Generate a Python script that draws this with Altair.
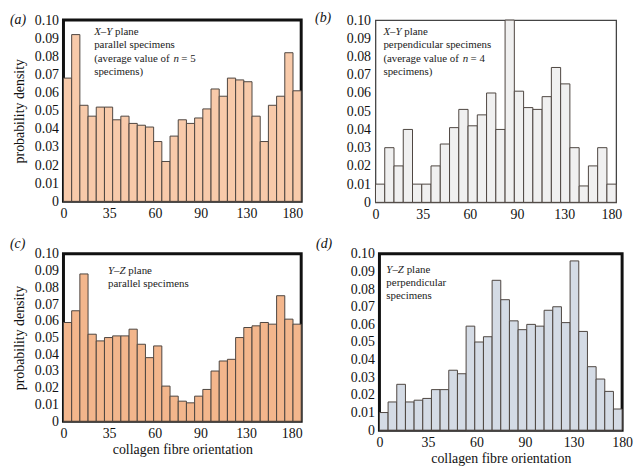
import altair as alt
import pandas as pd

x_labels = ["0", "35", "60", "90", "130", "180"]
y_ticks = [0, 0.01, 0.02, 0.03, 0.04, 0.05, 0.06, 0.07, 0.08, 0.09, 0.10]

# probability density per orientation bin
density_a = [0.068, 0.092, 0.053, 0.047, 0.052, 0.052, 0.045, 0.047, 0.043, 0.042,
             0.041, 0.033, 0.022, 0.036, 0.045, 0.043, 0.046, 0.051, 0.062, 0.058,
             0.068, 0.067, 0.066, 0.047, 0.033, 0.053, 0.058, 0.082, 0.061]
density_b = [0.010, 0.030, 0.020, 0.040, 0.010, 0.010, 0.020, 0.032, 0.041, 0.051,
             0.042, 0.048, 0.060, 0.040, 0.100, 0.061, 0.052, 0.051, 0.058, 0.074,
             0.065, 0.030, 0.009, 0.020, 0.030, 0.010]
density_c = [0.059, 0.066, 0.088, 0.052, 0.048, 0.050, 0.051, 0.051, 0.055, 0.046,
             0.038, 0.045, 0.021, 0.015, 0.012, 0.011, 0.015, 0.019, 0.030, 0.036,
             0.037, 0.050, 0.056, 0.057, 0.059, 0.058, 0.075, 0.061, 0.058]
density_d = [0.010, 0.016, 0.026, 0.016, 0.017, 0.018, 0.023, 0.023, 0.034, 0.032,
             0.059, 0.050, 0.053, 0.085, 0.074, 0.062, 0.057, 0.060, 0.059, 0.068,
             0.070, 0.061, 0.096, 0.056, 0.036, 0.029, 0.022, 0.012]

# annotation pieces: (line, offset px, text, italic?)
note_a = [(0, 0, "X–Y", True), (0, 21, "plane", False),
          (1, 0, "parallel specimens", False),
          (2, 0, "(average value of", False), (2, 80, "n", True), (2, 88, "= 5", False),
          (3, 0, "specimens)", False)]
note_b = [(0, 0, "X–Y", True), (0, 21, "plane", False),
          (1, 0, "perpendicular specimens", False),
          (2, 0, "(average value of", False), (2, 80, "n", True), (2, 88, "= 4", False),
          (3, 0, "specimens)", False)]
note_c = [(0, 0, "Y–Z", True), (0, 20.5, "plane", False),
          (1, 0, "parallel specimens", False)]
note_d = [(0, 0, "Y–Z", True), (0, 20.5, "plane", False),
          (1, 0, "perpendicular", False),
          (2, 0, "specimens", False)]

SERIF = "'Liberation Serif', 'Times New Roman', serif"


def panel(values, tag, note, fill, frame, w, h, span, tag_pos, note_pos,
          y_title=None, x_title=None):
    n = len(values)
    df = pd.DataFrame({"bin": range(n), "density": values})
    df["bin_end"] = df["bin"] + 1
    step = n * span / 5
    ticks = [k * step for k in range(6)]

    x_axis = alt.Axis(values=ticks, labelExpr=f"{x_labels}[round(datum.value / {step})]",
                      ticks=False, domain=False, grid=False, labelFlush=False,
                      labelOverlap=False, labelPadding=5, titlePadding=3,
                      title=x_title if x_title else None)
    y_axis = alt.Axis(values=y_ticks,
                      labelExpr="datum.value == 0 ? '0' : format(datum.value, '.2f')",
                      ticks=False, domain=False, grid=False, labelPadding=5,
                      titlePadding=8, title=y_title if y_title else None)

    bars = alt.Chart(df).mark_bar(fill=fill, stroke="#4d4540", strokeWidth=1).encode(
        x=alt.X("bin:Q", scale=alt.Scale(domain=[0, n], nice=False, zero=False), axis=x_axis),
        x2="bin_end:Q",
        y=alt.Y("density:Q", scale=alt.Scale(domain=[0, 0.1], nice=False), axis=y_axis),
        y2=alt.datum(0),
    )

    notes = pd.DataFrame(note, columns=["line", "off", "text", "italic"])
    notes["px"] = note_pos[0] + notes["off"]
    notes["py"] = note_pos[1] + notes["line"] * 13.5
    base = alt.Chart(notes).encode(
        x=alt.X("px:Q", scale=None), y=alt.Y("py:Q", scale=None), text="text:N")
    roman = base.transform_filter("!datum.italic").mark_text(
        align="left", baseline="middle", font=SERIF, fontSize=11, color="#222")
    italic = base.transform_filter("datum.italic").mark_text(
        align="left", baseline="middle", font=SERIF, fontSize=11, fontStyle="italic",
        color="#222")

    label = alt.Chart(pd.DataFrame({"tag": [tag]})).mark_text(
        align="left", baseline="middle", font=SERIF, fontSize=14, fontStyle="italic",
        color="#111").encode(x=alt.value(tag_pos[0]), y=alt.value(tag_pos[1]), text="tag:N")

    return alt.layer(bars, roman, italic, label).properties(
        width=w, height=h,
        view=alt.ViewBackground(stroke=frame[0], strokeWidth=frame[1]))


pa = panel(density_a, "(a)", note_a, "#F8CAAA", ("#111", 3), 240, 183, 0.9625,
           (-54, 0), (31, 12), y_title="probability density")
pb = panel(density_b, "(b)", note_b, "#F0F0F0", ("#444", 1.3), 243, 184, 0.98,
           (-61, -2), (8, 12))
pc = panel(density_c, "(c)", note_c, "#F3B68C", ("#111", 3), 240, 169, 0.96,
           (-54, -10), (45, 17), y_title="probability density",
           x_title="collagen fibre orientation")
pd_ = panel(density_d, "(d)", note_d, "#D4DBE5", ("#111", 3), 245, 178, 1.0,
            (-64, -10), (7, 16), x_title="collagen fibre orientation")

chart = alt.vconcat(
    alt.hconcat(pa, pb, spacing=10),
    alt.hconcat(pc, pd_, spacing=10),
    spacing=13,
).properties(padding=0).configure_axis(
    labelFont=SERIF, titleFont=SERIF, labelFontSize=14, titleFontSize=14,
    labelColor="#111", titleColor="#111", titleFontWeight="normal",
).configure_view(stroke=None)

chart.save("out.html", embed_options={"renderer": "svg", "actions": False})
